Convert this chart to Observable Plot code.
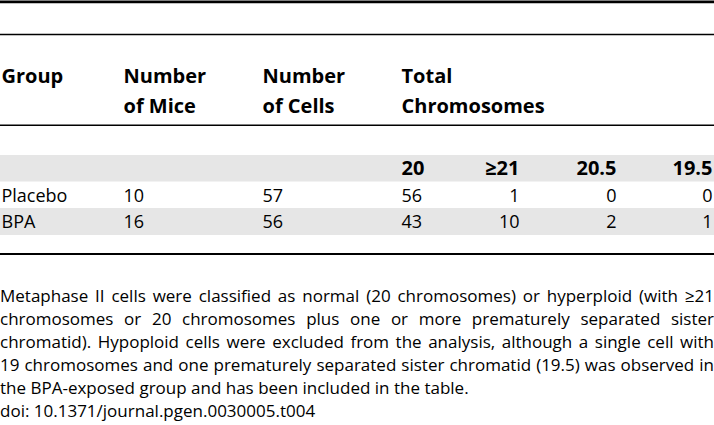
<!DOCTYPE html>
<html><head><meta charset="utf-8">
<script src="https://cdn.jsdelivr.net/npm/d3@7"></script>
<script src="https://cdn.jsdelivr.net/npm/@observablehq/plot@0.6"></script>
<style>
html,body{margin:0;padding:0;background:#fff;}
figure{margin:0;}
.cap{font-family:"Open Sans",sans-serif;font-size:17px;line-height:23px;color:#000;margin-top:16px;width:714px;}
.cap div{white-space:nowrap;text-align:justify;text-align-last:justify;}
.cap div.last{text-align-last:left;}
</style>
</head><body>
<div id="chart"></div>
<script>
// ---- data ----
const groups = ["Placebo", "BPA"];
const mice = [10, 16];
const cells = [57, 56];
const chromLabels = ["20", "\u226521", "20.5", "19.5"];
const chromCounts = [[56, 1, 0, 0], [43, 10, 2, 1]];
const headerLine1 = ["Group", "Number", "Number", "Total"];
const headerLine2 = ["", "of Mice", "of Cells", "Chromosomes"];
const captionLines = [
  "Metaphase II cells were classified as normal (20 chromosomes) or hyperploid (with \u226521",
  "chromosomes or 20 chromosomes plus one or more prematurely separated sister",
  "chromatid). Hypoploid cells were excluded from the analysis, although a single cell with",
  "19 chromosomes and one prematurely separated sister chromatid (19.5) was observed in",
  "the BPA-exposed group and has been included in the table."
];
const doi = "doi: 10.1371/journal.pgen.0030005.t004";

// ---- layout ----
const W = 714, H = 268;
const colStart = [1, 123, 262, 401];          // left-aligned columns
const chromX = [401, 519, 616, 712];          // chromosome sub-columns
const chromAnchor = ["start", "end", "end", "end"];
const yHead1 = 82, yHead2 = 112, ySub = 174.5, yRows = [201, 227.5];
const rules = [{y: 1.3, w: 2.7}, {y: 34, w: 1.4}, {y: 124.7, w: 1.4}, {y: 253.5, w: 2}];
const bands = [{y1: 155, y2: 181.5}, {y1: 208, y2: 235}];
const font = '"Open Sans", sans-serif';

// build tables
const headCells = [];
headerLine1.forEach((t, i) => headCells.push({x: colStart[i], y: yHead1, t}));
headerLine2.forEach((t, i) => t && headCells.push({x: colStart[i], y: yHead2, t}));
const subCells = chromLabels.map((t, i) => ({x: chromX[i], y: ySub, t, a: chromAnchor[i]}));
const bodyLeft = [], bodyChrom = [];
groups.forEach((g, r) => {
  [g, mice[r], cells[r]].forEach((v, c) => bodyLeft.push({x: colStart[c], y: yRows[r], t: String(v)}));
  chromCounts[r].forEach((v, c) => bodyChrom.push({x: chromX[c], y: yRows[r], t: String(v), a: chromAnchor[c]}));
});

const cap = document.createElement("div");
cap.className = "cap";
captionLines.forEach((l, i) => {
  const d = document.createElement("div");
  d.textContent = l;
  if (i === captionLines.length - 1) d.className = "last";
  cap.appendChild(d);
});
const dd = document.createElement("div");
dd.className = "last"; dd.textContent = doi; cap.appendChild(dd);

const textOpts = {fontFamily: font, fill: "#000", lineAnchor: "bottom"};
const chart = Plot.plot({
  width: W, height: H, margin: 0,
  x: {domain: [0, W], range: [0, W], axis: null},
  y: {domain: [0, H], range: [0, H], axis: null},
  style: {background: "#fff", overflow: "visible"},
  marks: [
    Plot.rect(bands, {x1: 0, x2: W, y1: "y1", y2: "y2", fill: "#e6e6e6"}),
    Plot.ruleY(rules, {y: "y", strokeWidth: "w", stroke: "#000"}),
    Plot.text(headCells, {...textOpts, x: "x", y: "y", text: "t", textAnchor: "start", fontSize: 20, fontWeight: "bold"}),
    Plot.text(subCells.filter(d => d.a === "start"), {...textOpts, x: "x", y: "y", text: "t", textAnchor: "start", fontSize: 20, fontWeight: "bold"}),
    Plot.text(subCells.filter(d => d.a === "end"), {...textOpts, x: "x", y: "y", text: "t", textAnchor: "end", fontSize: 20, fontWeight: "bold"}),
    Plot.text(bodyLeft, {...textOpts, x: "x", y: "y", text: "t", textAnchor: "start", fontSize: 18}),
    Plot.text(bodyChrom.filter(d => d.a === "start"), {...textOpts, x: "x", y: "y", text: "t", textAnchor: "start", fontSize: 18}),
    Plot.text(bodyChrom.filter(d => d.a === "end"), {...textOpts, x: "x", y: "y", text: "t", textAnchor: "end", fontSize: 18})
  ],
  caption: cap
});
document.getElementById("chart").appendChild(chart);
</script>
</body></html>
